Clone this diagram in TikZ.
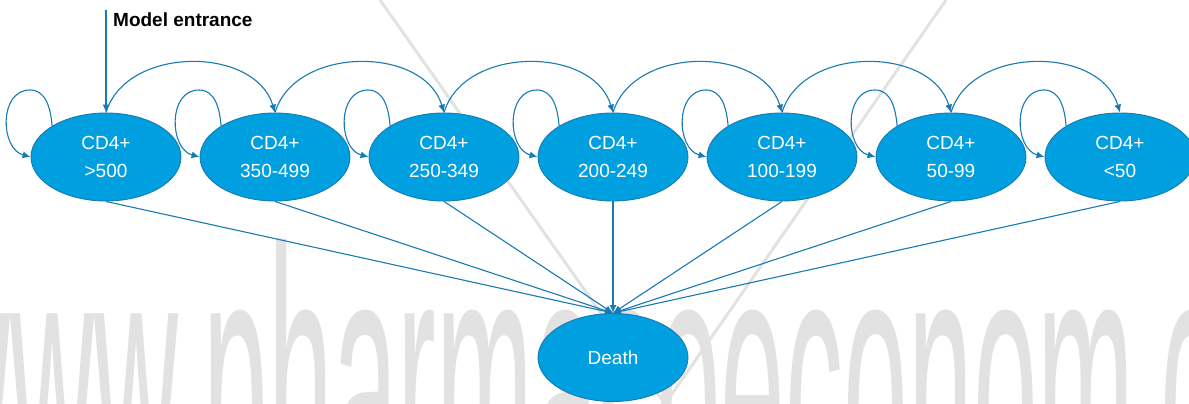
\documentclass[tikz,border=0pt]{standalone}
\usepackage{fontspec}
\usepackage{graphicx}
\setmainfont{Liberation Sans}
\usetikzlibrary{arrows.meta,shapes.geometric}

\definecolor{stateblue}{RGB}{0,159,224}
\definecolor{edgeblue}{RGB}{24,122,178}
\definecolor{markgrey}{RGB}{226,226,226}

\tikzset{
  state/.style={ellipse, draw=edgeblue, line width=0.9pt, fill=stateblue,
    minimum width=150pt, minimum height=88pt, inner sep=0pt,
    text=white, align=center, font=\fontsize{19}{28}\selectfont},
  conn/.style={draw=edgeblue, line width=1.1pt, -{Latex[length=8pt,width=7pt]}},
  markline/.style={draw=markgrey, line width=3pt},
}

\begin{document}
\begin{tikzpicture}[x=1pt,y=1pt]
\useasboundingbox (0,0) rectangle (1189,-404);
\clip (0,0) rectangle (1189,-404);

% faint background mark
\coordinate (vl) at (380,0);
\coordinate (vr) at (946,0);
\coordinate (vb) at (665,-404);
\draw[markline] (vl) -- (vb) -- (vr);
\node[anchor=base west, inner sep=0pt, text=markgrey,
      font=\fontsize{380}{380}\selectfont] (mark) at (-74,-514)
      {\scalebox{0.306}[1]{www.pharmacoeconom\phantom{i}cs.com}};

% CD4 states
\node[state] (s1) at (106,-157)  {CD4+\\>500};
\node[state] (s2) at (275,-157)  {CD4+\\350-499};
\node[state] (s3) at (444,-157)  {CD4+\\250-349};
\node[state] (s4) at (613,-157)  {CD4+\\200-249};
\node[state] (s5) at (782,-157)  {CD4+\\100-199};
\node[state] (s6) at (951,-157)  {CD4+\\50-99};
\node[state] (s7) at (1120,-157) {CD4+\\<50};
\node[state] (death) at (613,-357.5) {Death};

% entry into the model
\coordinate (entry) at (106,-10);
\draw[conn] (entry) -- (s1.north);
\node[anchor=base west, inner sep=0pt,
      font=\bfseries\fontsize{19}{22}\selectfont] (entrylabel) at (113,-26.7)
      {Model entrance};

% progression to the next stratum
\foreach \a/\b in {s1/s2,s2/s3,s3/s4,s4/s5,s5/s6,s6/s7}
  \draw[conn] (\a.north) .. controls +(20,67) and +(-20,67) .. (\b.north);

% staying in the same stratum
\foreach \s in {s1,s2,s3,s4,s5,s6,s7}
  \draw[conn] (\s.150) to[out=95,in=0] ([shift={(-76,67)}]\s.center)
              to[out=180,in=165,looseness=1.2] (\s.west);

% death from every stratum
\foreach \s in {s1,s2,s3,s4,s5,s6,s7}
  \draw[conn] (\s.south) -- (death.north);
\end{tikzpicture}
\end{document}
